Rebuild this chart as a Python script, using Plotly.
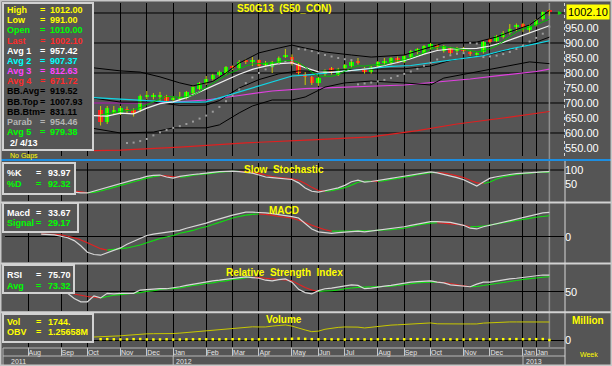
import plotly.graph_objects as go
import pandas as pd

W, H = 612, 366
BG = "#555555"
LIGHT = "#d2d2d2"
FONT = "Liberation Sans, Arial, sans-serif"

week_dates = pd.date_range("2011-07-11", periods=83, freq="7D")

# ---------------- price candles (week index 14 .. 82)
candle_start = 14
opens = [675, 637, 668, 665, 680, 677, 677, 720, 722, 721,
         723, 712, 712, 717, 733, 747, 767, 780, 793, 800,
         822, 817, 843, 838, 843, 828, 820, 833, 853, 853,
         830, 797, 787, 767, 797, 817, 793, 817, 823, 838,
         817, 803, 823, 833, 833, 850, 837, 853, 870, 867,
         883, 893, 873, 883, 873, 883, 870, 862, 870, 913,
         907, 920, 933, 953, 963, 943, 960, 980, 1010]
highs = [690, 690, 690, 690, 688, 682, 728, 740, 733, 737,
         727, 722, 737, 740, 757, 770, 790, 797, 808, 823,
         825, 843, 847, 853, 845, 840, 840, 855, 880, 862,
         833, 803, 790, 787, 812, 820, 817, 830, 843, 850,
         820, 823, 840, 850, 853, 855, 860, 877, 883, 893,
         900, 897, 893, 887, 887, 887, 873, 870, 907, 917,
         927, 940, 963, 965, 967, 963, 980, 1005, 1012]
lows = [625, 630, 660, 660, 665, 655, 670, 712, 712, 705,
        703, 702, 705, 712, 728, 743, 760, 775, 788, 795,
        810, 812, 830, 823, 818, 822, 800, 828, 850, 825,
        795, 760, 760, 757, 790, 795, 790, 810, 818, 828,
        798, 798, 818, 828, 828, 833, 833, 848, 862, 862,
        878, 877, 868, 862, 868, 868, 857, 853, 865, 898,
        903, 915, 928, 940, 937, 935, 955, 975, 991]
closes = [635, 683, 678, 683, 676, 665, 723, 727, 727, 725,
          707, 714, 720, 737, 753, 767, 780, 793, 803, 820,
          817, 837, 837, 840, 823, 833, 837, 850, 860, 830,
          800, 787, 767, 783, 810, 800, 813, 827, 837, 835,
          803, 820, 837, 840, 850, 837, 857, 873, 880, 890,
          897, 883, 890, 867, 880, 873, 863, 865, 903, 903,
          923, 933, 947, 960, 953, 957, 977, 1003, 1002.1]

# ---------------- price overlays (week index, value)
avg1_idx = [13, 15, 17, 19, 21, 23, 25, 27, 29, 31, 33, 35, 37, 39, 41, 43, 45, 47,
            49, 51, 53, 55, 57, 59, 61, 63, 65, 67, 69, 71, 73, 75, 77, 79, 81, 82]
avg1_val = [658, 656, 666, 664, 683, 698, 704, 718, 737, 757, 777, 796, 812, 823, 831, 834, 818, 804,
            802, 806, 811, 815, 825, 835, 848, 863, 875, 880, 881, 882, 890, 902, 918, 933, 948, 957.42]
avg2_idx = [13, 17, 21, 25, 29, 30, 32, 35, 38, 41, 43, 45, 48, 52, 55, 58, 61, 65, 70, 72, 75, 77, 80, 82]
avg2_val = [718, 713, 708, 703, 703, 704, 717, 737, 757, 777, 790, 793, 800, 810, 817, 822, 825, 837, 850,
            858, 875, 885, 898, 907.37]
avg3_idx = [13, 20, 25, 30, 35, 40, 45, 50, 55, 60, 65, 70, 75, 80, 82]
avg3_val = [700, 700, 703, 710, 725, 740, 748, 752, 755, 760, 770, 780, 793, 805, 812.63]
avg4_idx = [13, 17, 26, 36, 46, 55, 62, 68, 75, 82]
avg4_val = [541, 543, 553, 567, 577, 587, 608, 630, 650, 671.72]
bbt_idx = [13, 15, 17, 20, 23, 26, 28, 31, 33, 35, 38, 41, 43, 45, 48, 52, 55, 60, 64, 66, 71, 74, 76, 79, 82]
bbt_val = [817, 812, 807, 803, 787, 767, 757, 772, 800, 833, 867, 883, 893, 883, 870, 860, 853, 860, 887, 900,
           903, 920, 937, 960, 1007.93]
bbb_idx = [13, 17, 22, 25, 30, 32, 35, 37, 40, 43, 45, 48, 51, 55, 60, 64, 66, 71, 75, 79, 82]
bbb_val = [615, 600, 603, 617, 617, 627, 667, 690, 710, 710, 720, 753, 767, 773, 767, 760, 783, 803, 820, 837,
           831.11]
bbm_idx = [13, 17, 22, 26, 30, 32, 35, 38, 41, 44, 47, 50, 55, 60, 64, 67, 70, 73, 76, 79, 82]
bbm_val = [716, 703, 703, 692, 693, 708, 750, 778, 797, 807, 805, 810, 813, 814, 823, 842, 853, 862, 878, 895,
           919.52]
sar_start = 18
sar_val = [567, 568, 573, 580, 592, 602, 610, 617, 623, 630,
           638, 648, 658, 671, 687, 706, 725, 745, 766, 785,
           800, 812, 822, 830, 837, 842, 880, 878, 873, 866,
           860, 855, 850, 846, 843, 762, 765, 768, 772, 777,
           783, 790, 797, 805, 814, 824, 834, 845, 853, 859,
           864, 866, 900, 898, 853, 855, 858, 863, 870, 880,
           892, 905, 917, 931, 954.46]
avg5_start = 14
avg5_val = [660, 665, 668, 672, 675, 677, 685, 695, 704, 713,
            722, 720, 719, 721, 726, 738, 752, 766, 779, 793,
            803, 814, 823, 830, 831, 834, 834, 837, 841, 842,
            835, 820, 803, 790, 789, 789, 795, 807, 817, 824,
            823, 826, 828, 827, 838, 841, 844, 851, 859, 867,
            879, 885, 888, 885, 883, 879, 875, 870, 874, 881,
            891, 905, 922, 937, 947, 954, 960, 970, 979.38]

# ---------------- slow stochastic (from week 10)
stoch_start = 10
pct_k = [21, 18, 18, 25, 31, 38, 44, 52, 58, 65,
         70, 77, 81, 82, 75, 71, 77, 81, 84, 86,
         89, 92, 94, 95, 96, 94, 92, 89, 82, 75,
         73, 71, 70, 66, 54, 36, 24, 21, 26, 31,
         36, 45, 58, 64, 57, 59, 62, 66, 70, 74,
         78, 83, 87, 91, 93, 90, 85, 80, 73, 65,
         55, 43, 57, 71, 76, 81, 84, 87, 89, 91,
         93, 93, 93.97]
pct_d = [25, 22, 19, 20, 25, 31, 38, 45, 51, 58,
         64, 71, 76, 80, 79, 76, 74, 76, 81, 84,
         86, 89, 92, 94, 95, 95, 94, 92, 88, 82,
         77, 73, 71, 69, 63, 52, 38, 27, 24, 26,
         31, 37, 46, 56, 60, 60, 59, 62, 66, 70,
         74, 78, 83, 87, 90, 91, 89, 85, 79, 73,
         63, 54, 52, 57, 68, 76, 80, 84, 87, 89,
         91, 92, 92.32]

# ---------------- MACD (from week 5)
macd_start = 5
macd_val = [4, 3.5, 3, 1, -1,
            -5, -12, -21, -24, -25, -22, -18, -15, -10, -6,
            -1, 2, 4, 5, 6, 7, 9, 12, 14, 17,
            19, 22, 25, 27, 30, 32, 34, 34, 34, 33,
            32, 31, 30, 28, 26, 19, 11, 7, 6, 5,
            6, 7, 8, 8, 7, 8, 9, 10, 11, 12,
            14, 16, 18, 20, 21, 21, 21, 20, 18, 16,
            12, 11, 14, 16, 18, 21, 23, 25, 26, 28,
            31, 33, 33.67]
signal_val = [4, 3.8, 3.5, 3, 1,
              -1, -4, -8, -12, -16, -18, -17, -16, -15, -13,
              -11, -8, -5, -2, 0, 2, 5, 7, 9, 12,
              14, 17, 20, 23, 26, 28, 30, 31, 31.5, 31,
              30, 28, 27, 26, 23, 20, 16, 13, 10, 8,
              8, 8.1, 8.2, 8.3, 8.4, 8.6, 9, 9.5, 10, 11,
              12, 14, 16, 18, 19, 19.5, 19, 18, 17, 16,
              14, 14.2, 15, 16.5, 18, 19.5, 21, 22.5, 24, 25.5,
              27, 28, 29.17]

# ---------------- RSI (from week 9)
rsi_start = 9
rsi_val = [48,
           40, 35, 35, 44, 41, 48, 47, 48, 48, 48,
           53, 54, 55, 55, 55, 56, 58, 60, 62, 64,
           65, 67, 68, 69, 71, 72, 73, 72, 71, 68,
           67, 69, 70, 65, 54, 49, 47, 52, 55, 56,
           58, 60, 61, 60, 55, 56, 58, 59, 60, 62,
           63, 65, 66, 67, 67, 65, 64, 61, 60, 59,
           58, 62, 65, 65, 67, 68, 70, 71, 72, 73,
           74, 76, 75.7]
rsi_avg = [50,
           47, 45, 43, 42, 41, 43, 45, 46, 47, 48,
           49, 51, 52, 54, 55, 55.2, 56, 58, 60, 61,
           63, 64, 66, 67, 69, 70, 72, 72.5, 72, 71,
           70, 69, 68.5, 67, 62, 57, 53, 51, 51.5, 52,
           53, 55, 56, 57, 57.5, 58, 58.2, 58.5, 59, 60,
           61, 62.5, 64, 64.5, 65, 65, 64.5, 63, 61, 59.5,
           58, 58.5, 60, 61.5, 63, 64.5, 66, 67.5, 69, 70.5,
           71.5, 72.5, 73.32]

# ---------------- volume / OBV (millions)
obv_start = 13
obv_val = [0.21, 0.22, 0.25, 0.27, 0.29, 0.33, 0.37,
           0.42, 0.43, 0.44, 0.43, 0.42, 0.45, 0.48, 0.52, 0.56, 0.60,
           0.63, 0.67, 0.71, 0.76, 0.80, 0.85, 0.90, 0.92, 0.91, 0.91,
           0.97, 1.03, 1.05, 0.97, 0.86, 0.70, 0.58, 0.62, 0.75, 0.83,
           0.88, 0.91, 0.92, 0.90, 0.84, 0.90, 0.97, 1.00, 1.04, 1.06,
           1.09, 1.13, 1.17, 1.19, 1.19, 1.13, 1.14, 1.12, 1.12, 1.12,
           1.12, 1.12, 1.18, 1.21, 1.25, 1.26, 1.26, 1.26, 1.26, 1.26,
           1.26, 1.26, 1.25658]
vol_start = 14
vol_val = [52000, 61000, 48000, 39000, 44000, 57000, 66000, 41000, 35000, 38000,
           47000, 33000, 36000, 42000, 45000, 51000, 48000, 46000, 44000, 49000,
           52000, 55000, 43000, 40000, 46000, 58000, 50000, 62000, 71000, 83000,
           96000, 74000, 58000, 47000, 51000, 43000, 39000, 37000, 45000, 52000,
           41000, 44000, 46000, 49000, 53000, 57000, 48000, 51000, 60000, 47000,
           42000, 45000, 39000, 44000, 38000, 36000, 41000, 63000, 47000, 52000,
           49000, 55000, 58000, 61000, 54000, 50000, 57000, 64000, 1744]

# ---------------- axis labels
month_ticks = ["2011-08-01", "2011-09-05", "2011-10-03", "2011-11-07", "2011-12-05", "2012-01-02",
               "2012-02-06", "2012-03-05", "2012-04-02", "2012-05-07", "2012-06-04", "2012-07-02",
               "2012-08-06", "2012-09-03", "2012-10-01", "2012-11-05", "2012-12-03", "2013-01-07",
               "2013-01-21"]
month_labels = ["Aug", "Sep", "Oct", "Nov", "Dec", "Jan", "Feb", "Mar", "Apr", "May", "Jun", "Jul",
                "Aug", "Sep", "Oct", "Nov", "Dec", "Jan", "Jan"]
year_ticks = ["2011-07-11", "2012-01-02", "2013-01-07"]
year_labels = ["2011", "2012", "2013"]
price_ticks = [550, 600, 650, 700, 750, 800, 850, 900, 950]
price_grid = [600, 700, 800, 900, 1000]

legend_main = [("High", "1012.00", "#ffff00"), ("Low", "991.00", "#ffff00"),
               ("Open", "1010.00", "#00ff00"), ("Last", "1002.10", "#ff2a2a"),
               ("Avg 1", "957.42", "#ffffff"), ("Avg 2", "907.37", "#00ffff"),
               ("Avg 3", "812.63", "#ff44ff"), ("Avg 4", "671.72", "#ff2a2a"),
               ("BB.Avg", "919.52", "#000000"), ("BB.Top", "1007.93", "#000000"),
               ("BB.Btm", "831.11", "#000000"), ("Parab", "954.46", "#b4b4b4"),
               ("Avg 5", "979.38", "#00ff00")]
legend_stoch = [("%K", "93.97", "#ffffff"), ("%D", "92.32", "#00ff00")]
legend_macd = [("Macd", "33.67", "#ffffff"), ("Signal", "29.17", "#00ff00")]
legend_rsi = [("RSI", "75.70", "#ffffff"), ("Avg", "73.32", "#00ff00")]
legend_vol = [("Vol", "1744.", "#ffff00"), ("OBV", "1.25658M", "#ffff00")]
last_price = 1002.10
last_date_label = "2/ 4/13"

# =====================================================================
def px(x):
    return x / W


def py(y):
    return 1 - y / H


def wk(idx):
    return [week_dates[i] for i in idx]


fig = go.Figure()
AX = {"price": ("x", "y"), "stoch": ("x2", "y2"), "macd": ("x3", "y3"), "rsi": ("x4", "y4"), "vol": ("x5", "y5")}


def add_line(panel, idx, vals, color, width=1.0, mode="lines", marker=None):
    xa, ya = AX[panel]
    kw = dict(x=wk(idx), y=vals, mode=mode, xaxis=xa, yaxis=ya, hoverinfo="skip")
    if mode == "lines":
        kw["line"] = dict(color=color, width=width)
    else:
        kw["marker"] = marker
    fig.add_trace(go.Scatter(**kw))


def add_colored(panel, idx, vals, width=1.0):
    xa, ya = AX[panel]
    gx, gy, rx, ry = [], [], [], []
    for k in range(len(vals) - 1):
        sx = [week_dates[idx[k]], week_dates[idx[k + 1]], None]
        sy = [vals[k], vals[k + 1], None]
        if vals[k + 1] >= vals[k]:
            gx += sx; gy += sy
        else:
            rx += sx; ry += sy
    fig.add_trace(go.Scatter(x=gx, y=gy, mode="lines", line=dict(color="#10e010", width=width),
                             xaxis=xa, yaxis=ya, hoverinfo="skip"))
    fig.add_trace(go.Scatter(x=rx, y=ry, mode="lines", line=dict(color="#e82020", width=width),
                             xaxis=xa, yaxis=ya, hoverinfo="skip"))


# ---- candles
cidx = list(range(candle_start, candle_start + len(opens)))
cdates = wk(cidx)
wx, wy = [], []
for t, h, l in zip(cdates, highs, lows):
    wx += [t, t, None]
    wy += [l, h, None]
fig.add_trace(go.Scatter(x=wx, y=wy, mode="lines", line=dict(color="#cccc00", width=1),
                         xaxis="x", yaxis="y", hoverinfo="skip"))
fig.add_trace(go.Bar(x=cdates, y=[max(abs(c - o), 4) for o, c in zip(opens, closes)],
                     base=[min(o, c) for o, c in zip(opens, closes)],
                     marker=dict(color=["#00ff00" if c >= o else "#ff2020" for o, c in zip(opens, closes)],
                                 line=dict(width=0)),
                     width=4.8 * 86400000, xaxis="x", yaxis="y", hoverinfo="skip"))

# ---- overlays
add_line("price", avg4_idx, avg4_val, "#e02020", 1.2)
add_line("price", avg3_idx, avg3_val, "#e040e0", 1.2)
add_line("price", bbt_idx, bbt_val, "#000000", 1)
add_line("price", bbm_idx, bbm_val, "#000000", 1)
add_line("price", bbb_idx, bbb_val, "#000000", 1)
add_line("price", avg2_idx, avg2_val, "#10d8e8", 1.2)
add_line("price", avg1_idx, avg1_val, "#f0f0f0", 1.2)
add_line("price", list(range(avg5_start, avg5_start + len(avg5_val))), avg5_val, "#00c000", 1)
add_line("price", list(range(sar_start, sar_start + len(sar_val))), sar_val, None, mode="markers",
         marker=dict(color="#9c9c9c", size=2, symbol="square"))

# ---- stochastic
sidx = list(range(stoch_start, stoch_start + len(pct_k)))
add_colored("stoch", sidx, pct_d, 1.1)
add_line("stoch", sidx, pct_k, "#d8d8d8", 1.2)
# ---- macd
midx = list(range(macd_start, macd_start + len(macd_val)))
add_colored("macd", midx, signal_val, 1.1)
add_line("macd", midx, macd_val, "#d8d8d8", 1.2)
# ---- rsi
ridx = list(range(rsi_start, rsi_start + len(rsi_val)))
add_colored("rsi", ridx, rsi_avg, 1.1)
add_line("rsi", ridx, rsi_val, "#d8d8d8", 1.2)
# ---- volume
add_line("vol", list(range(obv_start, obv_start + len(obv_val))), obv_val, "#c8c800", 1)
add_line("vol", list(range(vol_start, vol_start + len(vol_val))), [v / 1e6 for v in vol_val], None,
         mode="markers", marker=dict(color="#ffff00", size=2.5, symbol="square"))

# ---------------- axes
xrange_ = ["2011-07-07 14:36", "2013-02-19 12:00"]
xdom = [px(5), px(564)]
panels = {  # name: (top px, bottom px, range)
    "y": (3, 156, [523.3, 1033.3]),
    "y2": (163, 201, [-10.7, 125]),
    "y3": (204, 262, [-34.3, 45.2]),
    "y4": (265, 311, [20.9, 91.3]),
    "y5": (314, 347, [-0.489, 1.815]),
}
layout = dict(width=W, height=H, margin=dict(l=0, r=0, t=0, b=0), paper_bgcolor=BG,
              plot_bgcolor="rgba(0,0,0,0)", showlegend=False, hovermode=False, bargap=0,
              font=dict(family=FONT, color="#ffffff"))
for n in range(1, 6):
    key = "xaxis" if n == 1 else f"xaxis{n}"
    yname = "y" if n == 1 else f"y{n}"
    xa = dict(type="date", range=xrange_, domain=xdom, anchor=yname, tickmode="array",
              tickvals=month_ticks, showgrid=True, gridcolor="#000000", gridwidth=1, zeroline=False,
              showline=False, showticklabels=False, ticks="", fixedrange=True)
    if n == 5:
        xa.update(showticklabels=True, ticktext=month_labels, ticks="outside", ticklen=8, tickwidth=1,
                  tickcolor="#c8c8c8", ticklabelposition="outside right", ticklabelstandoff=-1,
                  tickangle=0, tickfont=dict(family=FONT, size=7, color="#e4e4e4"))
    layout[key] = xa
    top, bot, rng = panels[yname]
    ykey = "yaxis" if n == 1 else f"yaxis{n}"
    ya = dict(domain=[py(bot), py(top)], range=rng, side="right", anchor="x" if n == 1 else f"x{n}",
              zeroline=False, showline=False, ticks="", fixedrange=True, showgrid=False,
              tickfont=dict(family=FONT, size=11, color="#ffffff"), tickmode="array")
    layout[ykey] = ya
layout["yaxis"].update(tickvals=price_ticks, ticktext=[f"{v:.2f}" for v in price_ticks])
layout["yaxis2"].update(tickvals=[50, 100], ticktext=["50", "100"])
layout["yaxis3"].update(tickvals=[0], ticktext=["0"], showgrid=True, gridcolor="#000000")
layout["yaxis4"].update(tickvals=[50], ticktext=["50"], showgrid=True, gridcolor="#000000")
layout["yaxis5"].update(tickvals=[0], ticktext=["0"], showgrid=True, gridcolor="#000000")

shapes = []
# horizontal grid lines in data coords
for v in price_grid:
    shapes.append(dict(type="line", xref="paper", yref="y", x0=xdom[0], x1=xdom[1], y0=v, y1=v,
                       line=dict(color="#000000", width=1), layer="below"))
shapes.append(dict(type="line", xref="paper", yref="y2", x0=xdom[0], x1=xdom[1], y0=100, y1=100,
                   line=dict(color="#000000", width=1), layer="below"))
# cursor at last bar
shapes.append(dict(type="line", xref="x", yref="paper", x0=week_dates[82], x1=week_dates[82],
                   y0=py(347), y1=py(3), line=dict(color="#8e8e8e", width=1.5), layer="below"))
# panel separators
shapes.append(dict(type="line", xref="paper", yref="paper", x0=0, x1=1, y0=py(160), y1=py(160),
                   line=dict(color="#1e8ee0", width=2), layer="above"))
for yy in (202.5, 263.5, 312.3):
    shapes.append(dict(type="line", xref="paper", yref="paper", x0=0, x1=1, y0=py(yy), y1=py(yy),
                       line=dict(color=LIGHT, width=2), layer="above"))
for yy in (348, 356):
    shapes.append(dict(type="line", xref="paper", yref="paper", x0=px(3), x1=px(565), y0=py(yy), y1=py(yy),
                       line=dict(color="#b8b8b8", width=1), layer="above"))
# right axis line
shapes.append(dict(type="line", xref="paper", yref="paper", x0=px(564.5), x1=px(564.5), y0=py(3), y1=py(158),
                   line=dict(color="#d8d8d8", width=1, dash="dot"), layer="above"))
shapes.append(dict(type="line", xref="paper", yref="paper", x0=px(565), x1=px(565), y0=py(161), y1=py(366),
                   line=dict(color="#d8d8d8", width=1), layer="above"))
# year row separators
for t in year_ticks[1:]:
    shapes.append(dict(type="line", xref="x", yref="paper", x0=t, x1=t, y0=py(356), y1=py(366),
                       line=dict(color="#b8b8b8", width=1), layer="above"))
shapes.append(dict(type="line", xref="paper", yref="paper", x0=px(3), x1=px(3), y0=py(348), y1=py(366),
                   line=dict(color="#b8b8b8", width=1), layer="above"))
# legend boxes
for (x0, y0, x1, y1) in [(3, 3, 93, 150), (3, 163, 75, 194), (3, 203, 78, 232), (3, 265, 74, 293),
                         (3, 314, 93, 342)]:
    shapes.append(dict(type="rect", xref="paper", yref="paper", x0=px(x0), x1=px(x1), y0=py(y1), y1=py(y0),
                       fillcolor=BG, line=dict(color=LIGHT, width=2), layer="above"))
# outer border
shapes.append(dict(type="rect", xref="paper", yref="paper", x0=0, x1=1, y0=0, y1=1,
                   line=dict(color="#c8c8c8", width=3), layer="above"))
layout["shapes"] = shapes

ann = []


def text(x, y, s, color, size=9, bold=True, xanchor="left", **kw):
    ann.append(dict(xref="paper", yref="paper", x=px(x), y=py(y), text=f"<b>{s}</b>" if bold else s,
                    showarrow=False, xanchor=xanchor, yanchor="middle",
                    font=dict(family=FONT, size=size, color=color), **kw))


def legend_rows(rows, y0, dy, eq_x=42.5, val_x=47.5):
    for k, (lab, val, col) in enumerate(rows):
        y = y0 + k * dy
        text(5, y, lab, col)
        text(eq_x, y, "=", col, xanchor="center")
        text(val_x, y, val, col)


legend_rows(legend_main, 10, 10.17)
text(8, 142.5, last_date_label, "#ffffff")
legend_rows(legend_stoch, 172.5, 11.5, eq_x=38, val_x=46)
legend_rows(legend_macd, 212.5, 11, eq_x=38, val_x=46)
legend_rows(legend_rsi, 275, 10.5, eq_x=38, val_x=46)
legend_rows(legend_vol, 321.5, 10.5, eq_x=38, val_x=46)

YEL = "#ffff00"
nb = "\u00a0"
text(284, 8.5, f"S50G13 {nb}(S50_CON)", YEL, size=10, xanchor="center")
text(284, 169.5, f"Slow {nb}Stochastic", YEL, size=10, xanchor="center")
text(284, 210, "MACD", YEL, size=10, xanchor="center")
text(284, 272, f"Relative {nb}Strength {nb}Index", YEL, size=10, xanchor="center")
text(284, 319.5, "Volume", YEL, size=10, xanchor="center")
text(588, 320, "Million", YEL, size=10, xanchor="center")
text(589, 354, "Week", YEL, size=7, bold=False, xanchor="center")
text(8, 156, "No Gaps", YEL, size=7, bold=False)

# year labels
for t, lab in zip(year_ticks, year_labels):
    ann.append(dict(xref="x", yref="paper", x=t, y=py(361), text=lab, showarrow=False, xanchor="left",
                    yanchor="middle", xshift=1, font=dict(family=FONT, size=7, color="#e4e4e4")))

# last price marker
ann.append(dict(xref="paper", yref="y", x=px(566), y=last_price, text=f"{last_price:.2f}", showarrow=False,
                xanchor="left", yanchor="middle", bgcolor="#ffff00", borderpad=1,
                font=dict(family=FONT, size=11, color="#000000")))
ann.append(dict(xref="paper", yref="y", x=px(560), y=last_price, text="\u25b8", showarrow=False,
                xanchor="center", yanchor="middle", font=dict(family=FONT, size=8, color="#00e000")))
layout["annotations"] = ann

fig.update_layout(**layout)
fig.write_html("out.html")
